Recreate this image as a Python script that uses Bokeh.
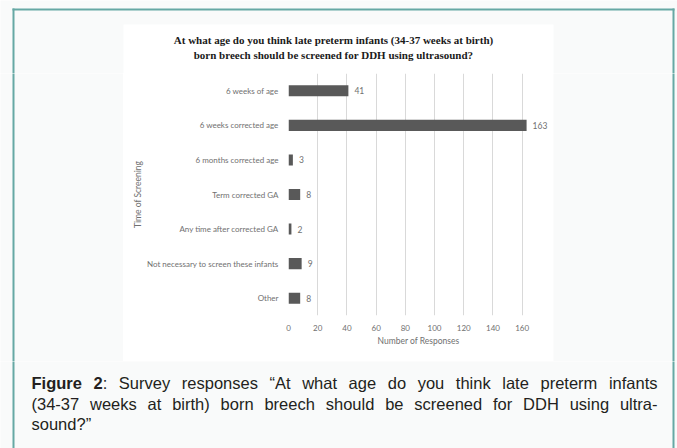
from bokeh.plotting import figure
from bokeh.layouts import column, row
from bokeh.models import (FactorRange, FixedTicker, BoxAnnotation, Label, ColumnDataSource)
from bokeh.core.properties import value
from bokeh.embed import file_html
from bokeh.resources import INLINE

# ---------------- data ----------------
categories = ["6 weeks of age", "6 weeks corrected age", "6 months corrected age",
              "Term corrected GA", "Any time after corrected GA",
              "Not necessary to screen these infants", "Other"]
responses = [41, 163, 3, 8, 2, 9, 8]
x_ticks = [0, 20, 40, 60, 80, 100, 120, 140, 160]

chart_title = ["At what age do you think late preterm infants (34-37 weeks at birth)",
               "born breech should be screened for DDH using ultrasound?"]
x_title = "Number of Responses"
y_title = "Time of Screening"
caption_label = "Figure 2"
caption_text = ["Survey responses \u201cAt what age do you think late preterm infants",
                "(34-37 weeks at birth) born breech should be screened for DDH using ultra-",
                "sound?\u201d"]

# ---------------- styling / layout ----------------
W, H = 677, 448
HEAD_H, MID_H = 73, 288
FOOT_H = H - HEAD_H - MID_H
BOX_L, BOX_R = 123, 553            # white chart panel
OFF = "#f9fafa"
TEAL = "#66a8a4"
AX_FONT = "Lato"
AX_COLOR = "#707070"
CAP_FONT = "Liberation Sans"
CAP_SIZE = 16.5
CAP_COLOR = "#231f20"
BL, BR, BT = 13, 673, 9           # teal frame: left x, right x, top y (page px)


def no_align(f):
    if "frame_align" in f.properties():
        f.frame_align = False


def deco_fig(w, h):
    f = figure(width=w, height=h, output_backend="svg", toolbar_location=None,
               x_axis_location=None, y_axis_location=None, min_border=0)
    f.xgrid.visible = False
    f.ygrid.visible = False
    f.outline_line_color = None
    f.background_fill_color = OFF
    f.border_fill_color = OFF
    no_align(f)
    return f


def box(f, l, r, t, b, color, level="annotation"):
    f.add_layout(BoxAnnotation(left=l, right=r, top=t, bottom=b,
                               left_units="screen", right_units="screen",
                               top_units="screen", bottom_units="screen",
                               fill_color=color, fill_alpha=1, line_color=None,
                               level=level))


# ---- header: top border + start of white panel + chart title
head = deco_fig(W, HEAD_H)
box(head, BOX_L, BOX_R, HEAD_H - 24, 0, "white", level="underlay")
box(head, BL - 1, BR + 1, HEAD_H - (BT - 1), HEAD_H - (BT + 1), TEAL)
for x in (BL, BR):
    box(head, x - 1, x + 1, HEAD_H - (BT - 1), 0, TEAL)
for i, t in enumerate(chart_title):
    head.add_layout(Label(x=333, y=HEAD_H - (39 + 15 * i), x_units="screen", y_units="screen",
                          text=t, text_align="center", text_baseline="middle",
                          text_font="Liberation Serif", text_font_style="bold",
                          text_font_size="11px", text_color="#1a1a1a"))

# ---- side strips
left_strip = deco_fig(BOX_L, MID_H)
box(left_strip, BL - 1, BL + 1, MID_H + 50, -50, TEAL)
right_strip = deco_fig(W - BOX_R, MID_H)
box(right_strip, BR - 1 - BOX_R, BR + 1 - BOX_R, MID_H + 50, -50, TEAL)

# ---- chart
FRAME_L = 288 - BOX_L
p = figure(width=BOX_R - BOX_L, height=MID_H, output_backend="svg", toolbar_location=None,
           x_range=(0, 178), y_range=FactorRange(*reversed(categories)),
           min_border_left=FRAME_L, min_border_right=5, min_border_top=0,
           min_border_bottom=MID_H - (315 - HEAD_H))
p.border_fill_color = "white"
p.background_fill_color = "white"
p.outline_line_color = None
no_align(p)

src = ColumnDataSource(dict(cat=categories, val=responses,
                            lab=[str(v) for v in responses]))
p.hbar(y="cat", right="val", left=0, height=0.32, source=src,
       fill_color="#595959", line_color=None)
p.text(x="val", y="cat", text="lab", source=src, x_offset=6,
       text_align="left", text_baseline="middle", text_font_size="8.5px",
       text_color=AX_COLOR, text_font=value(AX_FONT))

p.xaxis.ticker = FixedTicker(ticks=x_ticks)
p.xgrid.ticker = FixedTicker(ticks=x_ticks)
p.xgrid.grid_line_color = "#d9d9d9"
p.ygrid.grid_line_color = None

for ax in (p.xaxis[0], p.yaxis[0]):
    ax.axis_line_color = None
    ax.major_tick_line_color = None
    ax.minor_tick_line_color = None
    ax.major_label_text_font = AX_FONT
    ax.major_label_text_color = AX_COLOR
    ax.major_label_text_font_size = "8px"
    ax.axis_label_text_font = AX_FONT
    ax.axis_label_text_color = AX_COLOR
    ax.axis_label_text_font_size = "8.5px"
    ax.axis_label_text_font_style = "normal"

p.xaxis.axis_label = x_title
p.xaxis.major_label_standoff = 3
p.xaxis.axis_label_standoff = 2
p.yaxis.axis_label = y_title
p.yaxis.major_label_standoff = 4
p.yaxis.axis_label_standoff = 1

# ---- footer: caption, justified like the journal layout
foot = deco_fig(W, FOOT_H)
for x in (BL, BR):
    box(foot, x - 1, x + 1, FOOT_H + 50, -50, TEAL)

REG = {' ': 278, '(': 333, ')': 333, '-': 333, ':': 278, '?': 556, '\u201c': 333, '\u201d': 333,
       'A': 667, 'D': 722, 'H': 722, 'S': 667, 'a': 556, 'b': 556, 'c': 500, 'd': 556,
       'e': 556, 'f': 278, 'g': 556, 'h': 556, 'i': 222, 'k': 500, 'l': 222, 'm': 833,
       'n': 556, 'o': 556, 'p': 556, 'r': 333, 's': 500, 't': 278, 'u': 556, 'v': 500,
       'w': 722, 'y': 500}
BOLD = {'F': 611, 'i': 278, 'g': 611, 'u': 611, 'r': 389, 'e': 556, ' ': 278}


def tw(s, bold=False):
    tab = BOLD if bold else REG
    return sum(tab.get(c, 556) for c in s) * CAP_SIZE / 1000.0


def put(x, y_page, text, bold=False):
    foot.add_layout(Label(x=x, y=H - y_page, x_units="screen", y_units="screen",
                          text=text, text_align="left", text_baseline="alphabetic",
                          text_font=CAP_FONT, text_font_size=f"{CAP_SIZE}px",
                          text_font_style="bold" if bold else "normal",
                          text_color=CAP_COLOR))


X0, X1 = 31, 657
baselines = [382, 403, 423]

words1 = [[(caption_label.split()[0], True)],
          [(caption_label.split()[1], True), (":", False)]]
words1 += [[(w, False)] for w in caption_text[0].split()]
words2 = [[(w, False)] for w in caption_text[1].split()]

for words, yb in ((words1, baselines[0]), (words2, baselines[1])):
    widths = [sum(tw(t, b) for t, b in wd) for wd in words]
    gap = (X1 - X0 - sum(widths)) / (len(words) - 1)
    x = X0
    for wd, wdt in zip(words, widths):
        xx = x
        for t, b in wd:
            put(xx, yb, t, b)
            xx += tw(t, b)
        x += wdt + gap
put(X0, baselines[2], caption_text[2])

layout = column(head, row(left_strip, p, right_strip), foot)
open("out.html", "w").write(file_html(layout, INLINE))
